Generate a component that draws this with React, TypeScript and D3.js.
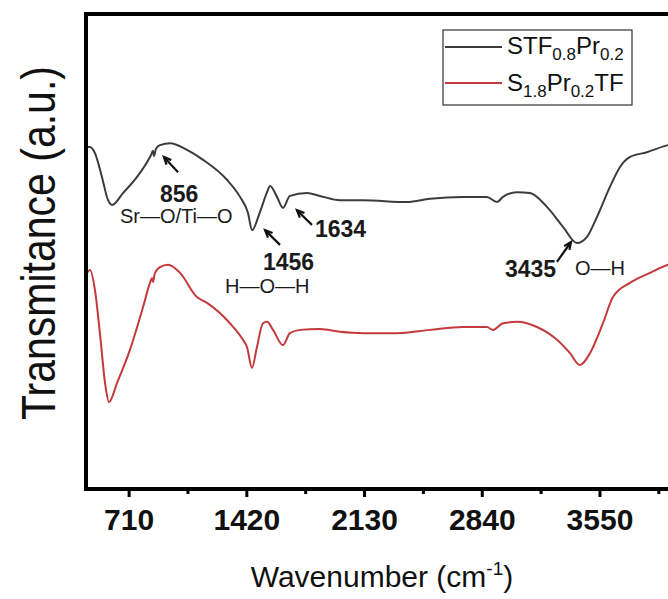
import React from 'react';
import * as d3 from 'd3';

// STF0.8Pr0.2 (black) — wavenumber (cm-1) and transmittance (a.u.)
const stfWavenumber = [450, 462, 474, 504, 546, 583, 607, 673, 758, 836, 842, 854, 860, 872, 896, 957, 1059, 1156, 1300, 1379, 1427, 1451, 1499, 1542, 1560, 1602, 1638, 1680, 1783, 1861, 1982, 2121, 2386, 2525, 2724, 2868, 2929, 2965, 3049, 3128, 3230, 3327, 3411, 3472, 3532, 3610, 3671, 3731, 3833, 3960, 4000];
const stfTransmittance = [72.0, 72.0, 72.0, 70.7, 65.7, 60.8, 59.8, 62.3, 65.7, 69.9, 70.3, 71.2, 70.1, 71.6, 72.4, 72.8, 71.4, 69.3, 65.1, 61.5, 58.1, 54.5, 58.3, 62.5, 63.8, 61.5, 59.2, 61.7, 62.3, 61.7, 60.8, 60.8, 60.4, 61.1, 61.5, 61.5, 60.4, 61.5, 62.5, 62.3, 59.4, 55.2, 51.8, 53.1, 57.3, 63.6, 67.8, 69.9, 70.9, 72.4, 72.7];

// S1.8Pr0.2TF (red)
const sptWavenumber = [450, 474, 504, 534, 565, 589, 637, 715, 794, 836, 848, 854, 866, 896, 945, 1017, 1119, 1180, 1318, 1397, 1421, 1451, 1481, 1517, 1542, 1578, 1638, 1680, 1741, 1861, 1982, 2121, 2326, 2525, 2724, 2868, 2905, 2965, 3049, 3170, 3291, 3369, 3429, 3490, 3568, 3628, 3731, 3852, 3960, 4000];
const sptTransmittance = [45.1, 46.1, 41.9, 32.8, 22.3, 18.3, 22.3, 29.3, 38.3, 43.4, 44.4, 43.6, 45.5, 46.7, 47.2, 45.5, 40.4, 39.2, 34.9, 31.4, 29.9, 25.5, 29.9, 34.9, 35.2, 33.5, 30.3, 32.8, 33.5, 33.7, 33.1, 32.8, 32.8, 33.5, 34.1, 34.1, 33.5, 34.9, 35.2, 34.1, 31.4, 28.6, 26.1, 28.6, 34.9, 40.4, 43.4, 45.5, 47.2, 47.6];

const majorTicks = [710, 1420, 2130, 2840, 3550];
const minorTicks = [1065, 1775, 2485, 3195, 3905];

// annotations: text anchored at data coords (w, v)
const annoTexts = [
  { t: '856', w: 896, v: 60.4, bold: true },
  { t: 'Sr\u2014O/Ti\u2014O', w: 655, v: 56.0, bold: false },
  { t: '1456', w: 1517, v: 46.1, bold: true },
  { t: 'H\u2014O\u2014H', w: 1288, v: 41.3, bold: false },
  { t: '1634', w: 1831, v: 53.1, bold: true },
  { t: '3435', w: 2977, v: 44.6, bold: true },
  { t: 'O\u2014H', w: 3399, v: 45.0, bold: false },
];
// arrows: from (w1,v1) to tip (w2,v2)
const annoArrows = [
  { w1: 1005, v1: 66.7, w2: 920, v2: 69.9 },
  { w1: 1620, v1: 51.4, w2: 1530, v2: 54.5 },
  { w1: 1813, v1: 55.6, w2: 1722, v2: 58.7 },
  { w1: 3290, v1: 47.8, w2: 3375, v2: 52.0 },
];

const FONT = '"Liberation Sans", Arial, sans-serif';
const W = 668;
const H = 599;

export default function App() {
  const x = d3.scaleLinear().domain([450, 4000]).range([86, 674.6]);
  const y = d3.scaleLinear().domain([0, 100]).range([489, 14]);
  const line = d3
    .line<[number, number]>()
    .x((d) => x(d[0]))
    .y((d) => y(d[1]))
    .curve(d3.curveMonotoneX);
  const stf = stfWavenumber.map((w, i) => [w, stfTransmittance[i]] as [number, number]);
  const spt = sptWavenumber.map((w, i) => [w, sptTransmittance[i]] as [number, number]);

  const arrowHead = (x1: number, y1: number, x2: number, y2: number) => {
    const ang = Math.atan2(y2 - y1, x2 - x1);
    const L = 8;
    const a = 0.42;
    const p1 = [x2 - L * Math.cos(ang - a), y2 - L * Math.sin(ang - a)];
    const p2 = [x2 - L * Math.cos(ang + a), y2 - L * Math.sin(ang + a)];
    return `M${p1[0]},${p1[1]}L${x2},${y2}L${p2[0]},${p2[1]}`;
  };

  return (
    <svg
      width={W}
      height={H}
      style={{ position: 'absolute', left: 0, top: 0, overflow: 'hidden', display: 'block' }}
      fontFamily={FONT}
    >
      <defs>
        <clipPath id="plotClip">
          <rect x={x(450)} y={0} width={W - x(450)} height={H} />
        </clipPath>
      </defs>
      <rect x={0} y={0} width={W} height={H} fill="#fff" />
      {/* curves */}
      <g clipPath="url(#plotClip)">
        <path d={line(stf) || ''} fill="none" stroke="#3c3c3c" strokeWidth={2} strokeLinejoin="round" />
        <path d={line(spt) || ''} fill="none" stroke="#c43a3c" strokeWidth={2} strokeLinejoin="round" />
      </g>

      {/* frame (right spine lies outside the view) */}
      <line x1={x(450) - 2} x2={W} y1={y(100)} y2={y(100)} stroke="#000" strokeWidth={4} />
      <line x1={x(450) - 2} x2={W} y1={y(0)} y2={y(0)} stroke="#000" strokeWidth={4} />
      <line x1={x(450)} x2={x(450)} y1={y(100) - 2} y2={y(0) + 2} stroke="#000" strokeWidth={4} />

      {/* ticks */}
      {majorTicks.map((t) => (
        <g key={'M' + t}>
          <line x1={x(t)} x2={x(t)} y1={y(0)} y2={y(0) + 8} stroke="#000" strokeWidth={3} />
          <text x={x(t)} y={530} textAnchor="middle" fontSize={30} fontWeight="bold" fill="#111">
            {t}
          </text>
        </g>
      ))}
      {minorTicks.map((t) => (
        <line key={'m' + t} x1={x(t)} x2={x(t)} y1={y(0)} y2={y(0) + 5} stroke="#000" strokeWidth={3} />
      ))}

      {/* axis titles */}
      <text x={382} y={587} textAnchor="middle" fontSize={30} fill="#111">
        Wavenumber (cm<tspan fontSize={19} dy={-12}>-1</tspan>
        <tspan fontSize={30} dy={12}>)</tspan>
      </text>
      <text transform="translate(55,243) rotate(-90) scale(1,1.15)" textAnchor="middle" fontSize={41} fill="#111">
        Transmitance (a.u.)
      </text>

      {/* annotations */}
      {annoTexts.map((a, i) => (
        <text
          key={'t' + i}
          x={x(a.w)}
          y={y(a.v)}
          fontSize={a.bold ? 23 : 20}
          fontWeight={a.bold ? 'bold' : 'normal'}
          fill="#1a1a1a"
        >
          {a.t}
        </text>
      ))}
      {annoArrows.map((a, i) => {
        const x1 = x(a.w1), y1 = y(a.v1), x2 = x(a.w2), y2 = y(a.v2);
        return (
          <g key={'a' + i} stroke="#111" strokeWidth={2.2} fill="none">
            <line x1={x1} y1={y1} x2={x2} y2={y2} />
            <path d={arrowHead(x1, y1, x2, y2)} />
          </g>
        );
      })}

      {/* legend */}
      <rect x={443} y={30} width={189} height={75} fill="#fff" stroke="#333" strokeWidth={1.2} />
      <line x1={445} x2={502} y1={47} y2={47} stroke="#3c3c3c" strokeWidth={2} />
      <line x1={445} x2={502} y1={83} y2={83} stroke="#c43a3c" strokeWidth={2} />
      <text x={507} y={54} fontSize={24} fill="#111">
        STF<tspan fontSize={17} dy={6}>0.8</tspan>
        <tspan fontSize={24} dy={-6}>Pr</tspan>
        <tspan fontSize={17} dy={6}>0.2</tspan>
      </text>
      <text x={507} y={91} fontSize={24} fill="#111">
        S<tspan fontSize={17} dy={6}>1.8</tspan>
        <tspan fontSize={24} dy={-6}>Pr</tspan>
        <tspan fontSize={17} dy={6}>0.2</tspan>
        <tspan fontSize={24} dy={-6}>TF</tspan>
      </text>
    </svg>
  );
}
